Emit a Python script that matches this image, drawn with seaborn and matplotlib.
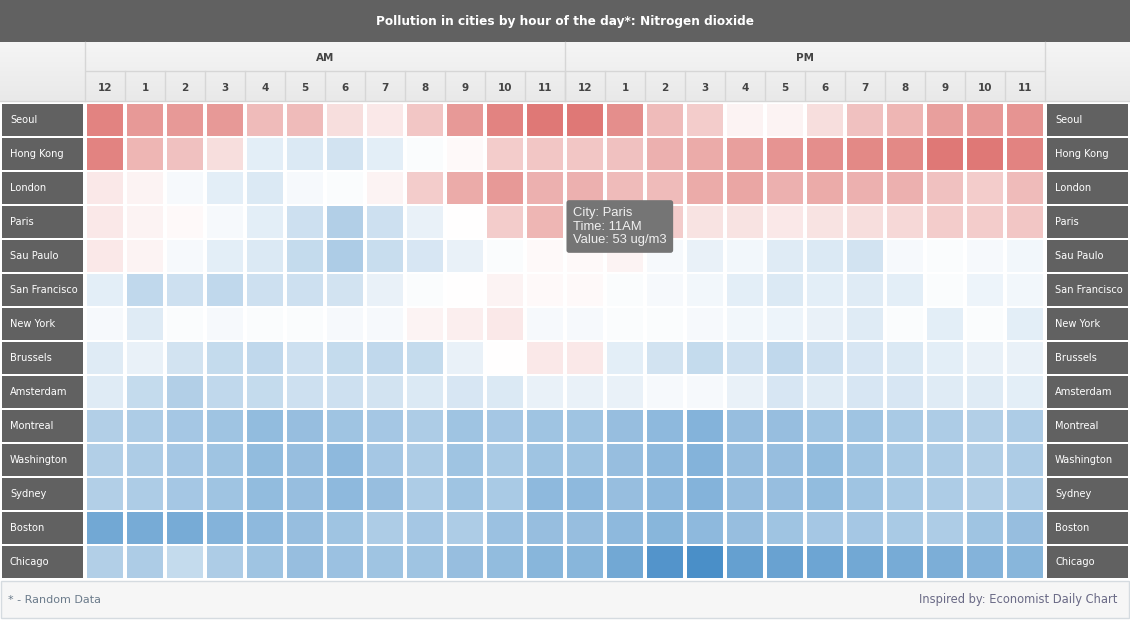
import numpy as np
import pandas as pd
import matplotlib.pyplot as plt
import seaborn as sns
from matplotlib.colors import LinearSegmentedColormap, TwoSlopeNorm
from matplotlib.patches import Rectangle

# data (ug/m3), 24 hourly values per city: 12AM..11AM, 12PM..11PM
cities = ['Seoul', 'Hong Kong', 'London', 'Paris', 'Sau Paulo', 'San Francisco', 'New York',
          'Brussels', 'Amsterdam', 'Montreal', 'Washington', 'Sydney', 'Boston', 'Chicago']
hours = ['12', '1', '2', '3', '4', '5', '6', '7', '8', '9', '10', '11']
periods = ['AM', 'PM']

seoul = [62, 58, 58, 58, 52, 52, 46, 44, 50, 58, 62, 64, 64, 60, 52, 49, 42, 42, 46, 51, 53, 57, 58, 59]
hong_kong = [62, 53, 51, 46, 34, 32, 30, 34, 39, 41, 49, 50, 50, 51, 54, 55, 57, 59, 60, 61, 61, 64, 64, 62]
london = [44, 42, 38, 34, 32, 38, 39, 42, 49, 55, 58, 54, 54, 52, 52, 55, 56, 54, 55, 54, 54, 51, 49, 52]
paris = [44, 42, 41, 38, 34, 29, 23, 29, 35, 40, 49, 53, 51, 50, 49, 45, 45, 44, 45, 46, 47, 49, 49, 50]
sau_paulo = [44, 42, 38, 34, 32, 27, 22, 28, 31, 35, 39, 41, 41, 42, 38, 35, 37, 33, 32, 30, 38, 39, 38, 37]
san_francisco = [34, 26, 29, 26, 29, 29, 30, 35, 39, 40, 42, 41, 41, 39, 38, 37, 34, 32, 34, 33, 34, 39, 36, 37]
new_york = [38, 33, 39, 38, 39, 39, 38, 38, 42, 43, 44, 38, 38, 39, 39, 38, 37, 36, 35, 33, 39, 34, 39, 34]
brussels = [33, 35, 30, 27, 26, 29, 27, 26, 27, 35, 40, 44, 44, 34, 30, 27, 29, 26, 29, 31, 32, 34, 35, 35]
amsterdam = [33, 27, 23, 26, 27, 29, 29, 30, 32, 31, 32, 35, 35, 35, 38, 38, 35, 31, 33, 31, 31, 33, 33, 34]
montreal = [23, 22, 20, 19, 16, 17, 19, 20, 22, 19, 20, 19, 19, 17, 15, 13, 17, 17, 19, 19, 21, 22, 23, 22]
washington = [23, 22, 20, 19, 16, 17, 15, 20, 22, 19, 21, 19, 19, 17, 15, 13, 17, 17, 16, 19, 21, 22, 23, 22]
sydney = [23, 22, 20, 19, 16, 17, 15, 17, 22, 19, 21, 15, 15, 17, 15, 13, 17, 17, 16, 19, 21, 22, 23, 22]
boston = [9, 10, 10, 13, 15, 17, 19, 22, 20, 22, 18, 17, 17, 15, 14, 15, 17, 19, 20, 20, 21, 22, 19, 17]
chicago = [23, 22, 27, 22, 19, 17, 18, 19, 19, 17, 16, 14, 14, 9, 2, 0, 6, 7, 8, 9, 10, 11, 13, 14]

columns = [h + p for p in periods for h in hours]
df = pd.DataFrame([seoul, hong_kong, london, paris, sau_paulo, san_francisco, new_york,
                   brussels, amsterdam, montreal, washington, sydney, boston, chicago],
                  index=cities, columns=columns)

W, H = 1130, 620
fig = plt.figure(figsize=(W / 100, H / 100), dpi=100)
fig.patch.set_facecolor('white')

def fig_box(x0, y0, x1, y1):
    # pixel box (top-left origin) -> figure fraction rect
    return [x0 / W, 1 - y1 / H, (x1 - x0) / W, (y1 - y0) / H]

# background layer in pixel coordinates
bg = fig.add_axes([0, 0, 1, 1], zorder=0)
bg.set_xlim(0, W)
bg.set_ylim(H, 0)
bg.axis('off')

# title bar
bg.add_patch(Rectangle((0, 0), W, 42, color='#616161', lw=0))
bg.text(W / 2, 22, 'Pollution in cities by hour of the day*: Nitrogen dioxide', color='white',
        fontsize=8.7, fontweight='bold', ha='center', va='center')

# header gradient
grad = np.linspace(0, 1, 50).reshape(-1, 1)
bg.imshow(grad, extent=(0, W, 101, 42), cmap=LinearSegmentedColormap.from_list('g', ['#f5f5f5', '#e9e9e9']),
          aspect='auto', zorder=0)
line_c = '#d6d6d6'
bg.plot([0, W], [101, 101], color=line_c, lw=1)
for x in [85, 565, 1045]:
    bg.plot([x, x], [42, 101], color=line_c, lw=1)

# footer
bg.add_patch(Rectangle((1, 581), W - 2, 37, facecolor='#f6f6f6', edgecolor='#d5dbe0', lw=1))
bg.text(8, 600, '* - Random Data', color='#6b7b8b', fontsize=8, va='center')
bg.text(1117, 600, 'Inspired by: Economist Daily Chart', color='#6a6a86', fontsize=8.3, va='center', ha='right')

# heatmap
cmap = LinearSegmentedColormap.from_list('bwr_soft', ['#4a8fc8', '#ffffff', '#de7370'])
norm = TwoSlopeNorm(vmin=0, vcenter=40, vmax=65)
ax = fig.add_axes(fig_box(85, 103, 1045, 579), zorder=2)
sns.heatmap(df, ax=ax, cmap=cmap, norm=norm, cbar=False, xticklabels=False, yticklabels=False)
ax.vlines(np.arange(len(columns) + 1), 0, len(cities), color='white', lw=2.9)
ax.hlines(np.arange(len(cities) + 1), 0, len(columns), color='white', lw=1.45)
ax.set_xlabel('')
ax.set_ylabel('')

# header: AM/PM and hours aligned to the heatmap columns
hdr = fig.add_axes(fig_box(85, 42, 1045, 101), zorder=1)
hdr.set_xlim(0, len(columns))
hdr.set_ylim(2, 0)
hdr.axis('off')
hdr.plot([0, len(columns)], [1, 1], color=line_c, lw=1)
for i in range(1, len(columns)):
    hdr.plot([i, i], [1, 2], color=line_c, lw=1)
for j, p in enumerate(periods):
    hdr.text(len(hours) * (j + 0.5), 0.55, p, ha='center', va='center', fontsize=7.5,
             fontweight='bold', color='#444444')
for i, c in enumerate(columns):
    hdr.text(i + 0.5, 1.55, hours[i % len(hours)], ha='center', va='center', fontsize=7.5,
             fontweight='bold', color='#444444')

# city labels, both sides
for x0, x1 in [(0, 85), (1045, W)]:
    lab = fig.add_axes(fig_box(x0, 103, x1, 579), zorder=1)
    lab.set_xlim(0, 85)
    lab.set_ylim(len(cities), 0)
    lab.axis('off')
    lab.barh(np.arange(len(cities)) + 0.5, 81, left=2, height=32 / 34, color='#616161')
    for i, c in enumerate(cities):
        lab.text(10, i + 0.5, c, color='white', fontsize=7.1, va='center')

# tooltip on Paris 11AM
r, k = cities.index('Paris'), columns.index('11AM')
tip = f"City: {cities[r]}\nTime: {columns[k]}\nValue: {df.iloc[r, k]} ug/m3"
ax.text(k + 1.2, r + 0.05, tip, color='#f0f0f0', fontsize=9.4, family='Liberation Sans',
        va='top', ha='left', linespacing=1.2, zorder=10, clip_on=False,
        bbox=dict(boxstyle='round,pad=0.5,rounding_size=0.2', fc='#757575', ec='none'))

fig.savefig('out.png', dpi=100)
